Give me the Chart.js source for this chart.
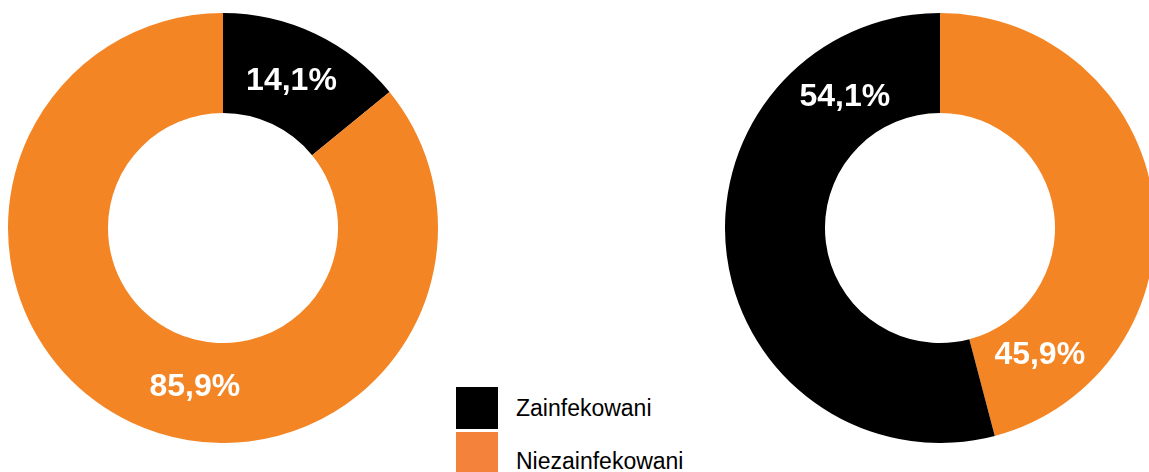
<!DOCTYPE html>
<html lang="pl">
<head>
<meta charset="utf-8">
<script src="https://cdn.jsdelivr.net/npm/chart.js@4.4.0/dist/chart.umd.min.js"></script>
<style>
  html, body { margin: 0; padding: 0; background: #fff; width: 1149px; height: 472px; overflow: hidden; }
  .wykres { position: absolute; width: 430px; height: 430px; }
  #lewy { left: 8px; top: 13px; }
  #prawy { left: 725px; top: 13px; }
  .leg-box { position: absolute; width: 42px; height: 42px; left: 456px; }
  .leg-txt { position: absolute; left: 516px; font-family: "Liberation Sans", Arial, sans-serif; font-size: 23px; color: #000; line-height: 1; }
</style>
</head>
<body>
<div class="wykres" id="lewy"><canvas id="wykresLewy"></canvas></div>
<div class="wykres" id="prawy"><canvas id="wykresPrawy"></canvas></div>
<div id="legenda"></div>

<script>
// Dane
const kategorie = ['Zainfekowani', 'Niezainfekowani'];
const kategorieLewy = ['Zainfekowani', 'Niezainfekowani'];
const wartosciLewy = [14.1, 85.9];
const kategoriePrawy = ['Niezainfekowani', 'Zainfekowani'];
const wartosciPrawy = [45.9, 54.1];

const kolory = { 'Zainfekowani': '#000000', 'Niezainfekowani': '#F48524' };
const koloryLegendy = { 'Zainfekowani': '#000000', 'Niezainfekowani': '#F5823A' };

// Kąty (w stopniach od góry) i promień, gdzie rysujemy etykiety
const katyLewy = [25, 190];
const katyPrawy = [142, 324];

const etykietyPlugin = {
    id: 'etykiety',
    afterDatasetsDraw(chart, args, opts) {
        const ctx = chart.ctx;
        const meta = chart.getDatasetMeta(0);
        const ds = chart.data.datasets[0];
        ctx.save();
        ctx.fillStyle = '#fff';
        ctx.font = 'bold 32px "Liberation Sans", Arial, sans-serif';
        ctx.textAlign = 'center';
        ctx.textBaseline = 'middle';
        meta.data.forEach((arc, i) => {
            const r = (arc.innerRadius + arc.outerRadius) / 2 - 3;
            const a = (opts.katy[i] - 90) * Math.PI / 180;
            const x = arc.x + r * Math.cos(a);
            const y = arc.y + r * Math.sin(a);
            const tekst = ds.data[i].toFixed(1).replace('.', ',') + '%';
            ctx.fillText(tekst, x, y);
        });
        ctx.restore();
    }
};

function rysujPierscien(id, etykiety, wartosci, katy) {
    const ctx = document.getElementById(id);
    if (!ctx) return;
    new Chart(ctx, {
        type: 'doughnut',
        data: {
            labels: etykiety,
            datasets: [{
                data: wartosci,
                backgroundColor: etykiety.map(k => kolory[k]),
                borderWidth: 0
            }]
        },
        options: {
            responsive: true,
            maintainAspectRatio: false,
            animation: false,
            cutout: '53.5%',
            layout: { padding: 0 },
            plugins: {
                legend: { display: false },
                tooltip: { enabled: false },
                etykiety: { katy: katy }
            }
        },
        plugins: [etykietyPlugin]
    });
}

rysujPierscien('wykresLewy', kategorieLewy, wartosciLewy, katyLewy);
rysujPierscien('wykresPrawy', kategoriePrawy, wartosciPrawy, katyPrawy);

// Legenda
const legenda = document.getElementById('legenda');
const pozycjeBox = [387, 432];
const pozycjeTxt = [397, 450];
kategorie.forEach((k, i) => {
    const box = document.createElement('div');
    box.className = 'leg-box';
    box.style.top = pozycjeBox[i] + 'px';
    box.style.background = koloryLegendy[k];
    legenda.appendChild(box);
    const txt = document.createElement('div');
    txt.className = 'leg-txt';
    txt.style.top = pozycjeTxt[i] + 'px';
    txt.textContent = k;
    legenda.appendChild(txt);
});
</script>
</body>
</html>
